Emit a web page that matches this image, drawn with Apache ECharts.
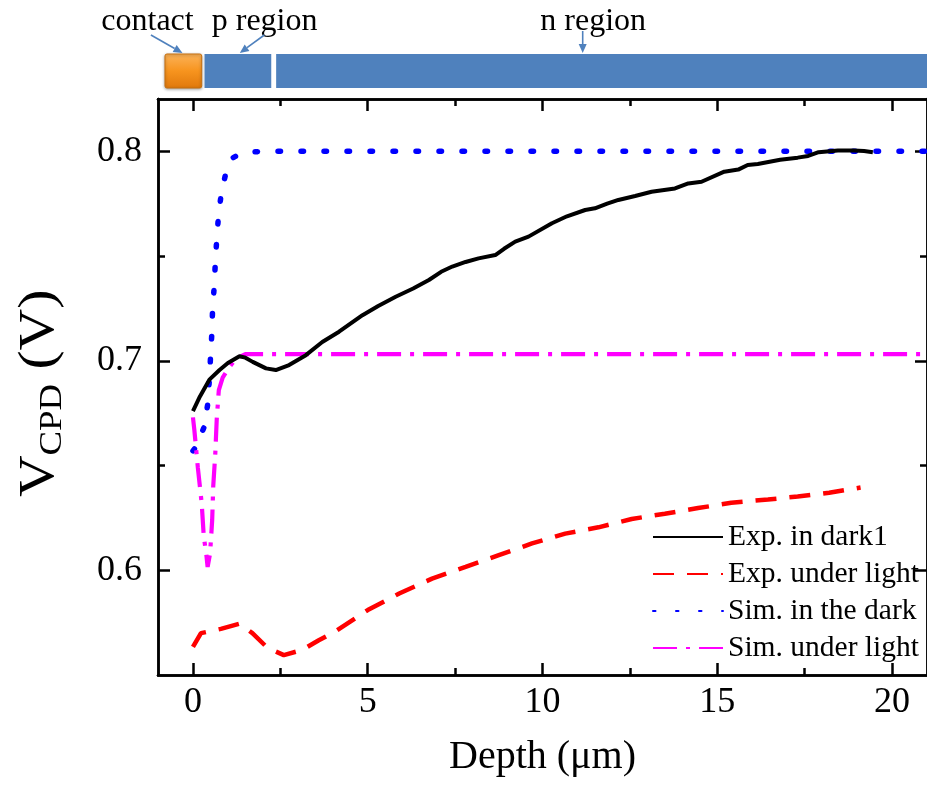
<!DOCTYPE html>
<html>
<head>
<meta charset="utf-8">
<script src="https://cdn.jsdelivr.net/npm/echarts@6/dist/echarts.min.js"></script>
<style>
  html, body { margin: 0; padding: 0; background: #ffffff; }
  #chart { width: 927px; height: 785px; }
</style>
</head>
<body>
<div id="chart"></div>
<script>
// Surface potential (V_CPD) versus depth across the contact / p / n structure.

const seriesNames = ['Exp. in dark1', 'Exp. under light', 'Sim. in the dark', 'Sim. under light'];

// [depth (µm), V_CPD (V)]
const expDark = [
  [0, 0.676], [0.2, 0.683], [0.47, 0.691], [0.76, 0.6956], [1.0, 0.699], [1.33, 0.7022],
  [1.5, 0.7015], [1.71, 0.6995], [2.09, 0.6964], [2.37, 0.6956], [2.75, 0.698], [3.23, 0.7027],
  [3.7, 0.709], [4.18, 0.7139], [4.85, 0.7218], [5.3, 0.7262], [5.8, 0.7306], [6.3, 0.7345],
  [6.75, 0.7386], [7.1, 0.7425], [7.42, 0.745], [7.8, 0.7472], [8.17, 0.7489], [8.65, 0.7505],
  [8.9, 0.7535], [9.22, 0.7569], [9.6, 0.7593], [10.27, 0.7657], [10.7, 0.769], [11.22, 0.772],
  [11.5, 0.7728], [11.85, 0.775], [12.17, 0.7768], [12.65, 0.7787], [13.12, 0.7807], [13.79, 0.7823],
  [14.17, 0.7847], [14.55, 0.7855], [15.2, 0.7903], [15.6, 0.7913], [15.87, 0.7935], [16.16, 0.794],
  [16.8, 0.796], [17.3, 0.797], [17.6, 0.7978], [17.9, 0.7996], [18.45, 0.8004], [18.9, 0.8004],
  [19.2, 0.8002], [19.45, 0.7996]
];

const expLight = [
  [0, 0.5634], [0.23, 0.570], [0.8, 0.572], [1.33, 0.5745], [1.7, 0.570], [2.13, 0.563],
  [2.6, 0.5595], [3.13, 0.562], [3.6, 0.5666], [4.04, 0.5705], [5.0, 0.581], [5.9, 0.5889],
  [6.84, 0.596], [7.8, 0.6016], [8.75, 0.6072], [9.7, 0.6128], [10.65, 0.6175], [11.6, 0.6205],
  [12.55, 0.6245], [13.5, 0.627], [14.45, 0.6297], [15.4, 0.6322], [16.45, 0.6338], [17.3, 0.6352],
  [18.2, 0.637], [19.1, 0.6395]
];

const simDark = [
  [0, 0.657], [0.09, 0.659], [0.31, 0.668], [0.42, 0.679], [0.47, 0.691], [0.5, 0.701],
  [0.54, 0.713], [0.56, 0.724], [0.61, 0.736], [0.64, 0.747], [0.68, 0.758], [0.73, 0.769],
  [0.81, 0.780], [0.96, 0.791], [1.15, 0.797], [1.42, 0.7994], [2.0, 0.8], [21, 0.8]
];

const simLight = [
  [0, 0.673], [0.04, 0.667], [0.14, 0.649], [0.25, 0.632], [0.31, 0.616], [0.38, 0.608],
  [0.42, 0.6016], [0.49, 0.608], [0.55, 0.624], [0.58, 0.640], [0.64, 0.656], [0.68, 0.672],
  [0.74, 0.686], [0.85, 0.692], [1.04, 0.697], [1.23, 0.701], [1.5, 0.7032], [21, 0.7032]
];

const xRange = [-1, 21];
const yRange = [0.55, 0.825];
const xMajorTicks = [0, 5, 10, 15, 20];
const xMinorTicks = [2.5, 7.5, 12.5, 17.5];
const yMajorTicks = [0.6, 0.7, 0.8];
const yMinorTicks = [0.65, 0.75];

// Device structure drawn above the plot, in depth units
const contactSpan = [-0.8, 0.25];
const pRegionSpan = [0.33, 2.24];
const nRegionSpan = [2.38, 21];
const structureLabels = [
  { text: 'contact', at: -1.3, tip: -0.3, tipBend: 0.9 },
  { text: 'p region', at: 2.05, tip: 1.34, tipBend: -0.7 },
  { text: 'n region', at: 11.45, tip: 11.15, tipBend: 0 }
];

const SERIF = '"Liberation Serif", "Times New Roman", serif';
const AXIS_W = 2.5;

function xAxisDef(position, ticks, tickLen, withLabels) {
  return {
    type: 'value', position: position, min: xRange[0], max: xRange[1],
    axisLine: { show: true, onZero: false, lineStyle: { color: '#000', width: AXIS_W } },
    axisTick: { show: true, inside: true, length: tickLen, customValues: ticks,
                lineStyle: { color: '#000', width: AXIS_W } },
    axisLabel: withLabels
      ? { show: true, customValues: ticks, margin: 10, color: '#000', fontFamily: SERIF, fontSize: 36 }
      : { show: false },
    splitLine: { show: false }
  };
}

function yAxisDef(position, ticks, tickLen, withLabels) {
  return {
    type: 'value', position: position, min: yRange[0], max: yRange[1],
    axisLine: { show: true, onZero: false, lineStyle: { color: '#000', width: AXIS_W } },
    axisTick: { show: true, inside: true, length: tickLen, customValues: ticks,
                lineStyle: { color: '#000', width: AXIS_W } },
    axisLabel: withLabels
      ? { show: true, customValues: ticks, margin: 16, color: '#000', fontFamily: SERIF, fontSize: 36,
          formatter: v => v.toFixed(1) }
      : { show: false },
    splitLine: { show: false }
  };
}

const xMain = xAxisDef('bottom', xMajorTicks, 12, true);
xMain.name = 'Depth (\u03bcm)';
xMain.nameLocation = 'middle';
xMain.nameGap = 62;
xMain.nameTextStyle = { color: '#000', fontFamily: SERIF, fontSize: 40 };

const chart = echarts.init(document.getElementById('chart'), null, { renderer: 'canvas' });

chart.setOption({
  backgroundColor: '#ffffff',
  animation: false,
  grid: { left: 158, right: -2, top: 99, bottom: 110, containLabel: false },
  xAxis: [
    xMain,
    xAxisDef('bottom', xMinorTicks, 7, false),
    xAxisDef('top', xMajorTicks, 12, false),
    xAxisDef('top', xMinorTicks, 7, false)
  ],
  yAxis: [
    yAxisDef('left', yMajorTicks, 12, true),
    yAxisDef('left', yMinorTicks, 7, false),
    yAxisDef('right', yMajorTicks, 12, false),
    yAxisDef('right', yMinorTicks, 7, false)
  ],
  legend: {
    orient: 'vertical', left: 647, top: 517,
    itemWidth: 70, itemHeight: 14, itemGap: 7,
    textStyle: { color: '#000', fontFamily: SERIF, fontSize: 29.5 },
    itemStyle: { opacity: 0 },
    data: seriesNames
  },
  series: [
    { name: seriesNames[0], type: 'line', data: expDark, symbol: 'none', z: 5,
      lineStyle: { color: '#000000', width: 4, type: 'solid' }, itemStyle: { color: '#000000' } },
    { name: seriesNames[1], type: 'line', data: expLight, symbol: 'none', z: 4,
      lineStyle: { color: '#ff0000', width: 4.5, type: [21, 13] }, itemStyle: { color: '#ff0000' } },
    { name: seriesNames[2], type: 'line', data: simDark, symbol: 'none', z: 3,
      lineStyle: { color: '#0000ff', width: 5.5, type: [2.5, 20.5], cap: 'round' }, itemStyle: { color: '#0000ff' } },
    { name: seriesNames[3], type: 'line', data: simLight, symbol: 'none', z: 3,
      lineStyle: { color: '#ff00ff', width: 4.2, type: [24, 9, 4, 9] }, itemStyle: { color: '#ff00ff' } }
  ]
});

// Device structure sketch placed on the same depth scale
function px(depth) { return chart.convertToPixel({ xAxisIndex: 0 }, depth); }

function arrow(x1, y1, x2, y2, color) {
  const ang = Math.atan2(y2 - y1, x2 - x1);
  const hl = 9, hw = 4;
  const bx = x2 - hl * Math.cos(ang), by = y2 - hl * Math.sin(ang);
  const nx = -Math.sin(ang) * hw, ny = Math.cos(ang) * hw;
  return [
    { type: 'line', shape: { x1: x1, y1: y1, x2: bx, y2: by }, style: { stroke: color, lineWidth: 1.6 }, silent: true },
    { type: 'polygon', shape: { points: [[x2, y2], [bx + nx, by + ny], [bx - nx, by - ny]] },
      style: { fill: color }, silent: true }
  ];
}

const barTop = 54, barH = 34;
const blue = '#4f81bd';
const graphics = [];

graphics.push({
  type: 'rect', silent: true,
  shape: { x: px(contactSpan[0]), y: barTop, width: px(contactSpan[1]) - px(contactSpan[0]), height: barH, r: 2 },
  style: {
    fill: new echarts.graphic.LinearGradient(0, 0, 0, 1, [
      { offset: 0, color: '#fbb35a' }, { offset: 0.5, color: '#f7941e' }, { offset: 1, color: '#e0780c' }
    ]),
    stroke: '#c8700f', lineWidth: 1, shadowBlur: 3, shadowColor: 'rgba(0,0,0,0.35)', shadowOffsetY: 1
  }
});
graphics.push({
  type: 'rect', silent: true,
  shape: { x: px(pRegionSpan[0]), y: barTop, width: px(pRegionSpan[1]) - px(pRegionSpan[0]), height: barH },
  style: { fill: blue }
});
graphics.push({
  type: 'rect', silent: true,
  shape: { x: px(nRegionSpan[0]), y: barTop, width: px(nRegionSpan[1]) - px(nRegionSpan[0]), height: barH },
  style: { fill: blue }
});

structureLabels.forEach(l => {
  const cx = px(l.at);
  graphics.push({
    type: 'text', silent: true, x: cx, y: 22,
    style: { text: l.text, fill: '#000', font: '32px ' + SERIF, align: 'center', verticalAlign: 'middle' }
  });
  const tx = px(l.tip);
  const sx = l.tipBend === 0 ? tx : tx - l.tipBend * 35.05;
  const sy = l.tipBend === 0 ? 31 : 35;
  arrow(sx, sy, tx, 53, blue).forEach(g => graphics.push(g));
});

// Vertical axis title: V with subscript CPD, read bottom to top
const mainSize = 50, subSize = 32;
graphics.push({
  type: 'group', silent: true,
  x: 56, y: 497, rotation: Math.PI / 2, scaleX: 1.15,
  children: [
    { type: 'text', x: 0, y: -0.331 * mainSize,
      style: { text: 'V', fill: '#000', font: mainSize + 'px ' + SERIF, align: 'left', verticalAlign: 'middle' } },
    { type: 'text', x: 0.722 * mainSize, y: 7 - 0.331 * subSize,
      style: { text: 'CPD', fill: '#000', font: subSize + 'px ' + SERIF, align: 'left', verticalAlign: 'middle' } },
    { type: 'text', x: 0.722 * mainSize + 1.945 * subSize, y: -0.331 * mainSize,
      style: { text: ' (V)', fill: '#000', font: mainSize + 'px ' + SERIF, align: 'left', verticalAlign: 'middle' } }
  ]
});

chart.setOption({ graphic: graphics });
</script>
</body>
</html>
